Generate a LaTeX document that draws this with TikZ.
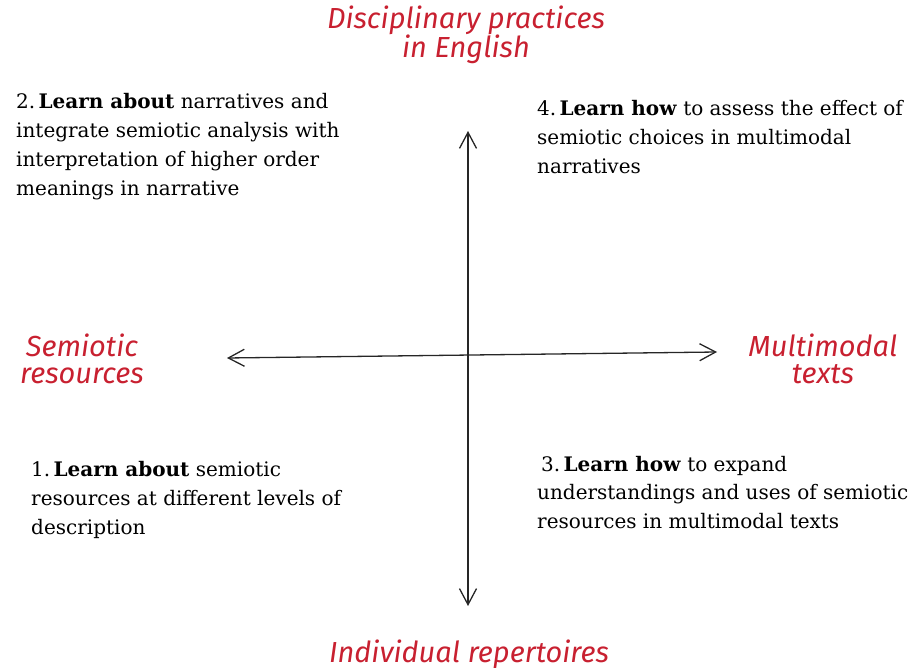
\documentclass[tikz,border=0pt]{standalone}
\usepackage{fontspec}
\setmainfont{DejaVu Serif}
\newfontfamily\labelfont{Fira Sans}
\usetikzlibrary{arrows.meta,positioning}
\definecolor{axisred}{RGB}{200,32,48}

\begin{document}
\begin{tikzpicture}[x=1pt,y=-1pt,
    axislabel/.style={text=axisred,font=\labelfont\itshape\fontsize{29}{27.5}\selectfont,align=center,inner sep=0pt,anchor=base},
    quadtext/.style={font=\fontsize{20}{29}\selectfont,align=left,inner sep=0pt,anchor=base west},
    axisline/.style={draw=black!85,line width=1.3pt,{Straight Barb[length=16pt,width=17pt]}-{Straight Barb[length=16pt,width=17pt]}}]
    \useasboundingbox (0,0) rectangle (914,668);

    % Axis ends
    \coordinate (vtop) at (468,131);
    \coordinate (vbot) at (468,606);
    \coordinate (hleft) at (227,358);
    \coordinate (hright) at (717,352);

    % Axes
    \draw[axisline] (vbot) -- (vtop);
    \draw[axisline] (hleft) -- (hright);

    % Axis labels (anchored at the last line)
    \node[axislabel] (top) at (466,58) {Disciplinary practices\\in English};
    \node[axislabel] (bottom) at (469,662) {Individual repertoires};
    \node[axislabel] (left) at (82,384) {Semiotic\\resources};
    \node[axislabel] (right) at (823,384) {Multimodal\\texts};

    % Quadrants (anchored at the last line)
    \node[quadtext] (q2) at (16,196) {2.\,\textbf{Learn about} narratives and\\integrate semiotic analysis with\\interpretation of higher order\\meanings in narrative};
    \node[quadtext] (q4) at (537,174) {4.\,\textbf{Learn how} to assess the effect of\\semiotic choices in multimodal\\narratives};
    \node[quadtext] (q1) at (31,534) {1.\,\textbf{Learn about} semiotic\\resources at different levels of\\description};
    \node[quadtext] (q3) at (537,529) {\hspace*{4pt}3.\,\textbf{Learn how} to expand\\understandings and uses of semiotic\\resources in multimodal texts};
\end{tikzpicture}
\end{document}
